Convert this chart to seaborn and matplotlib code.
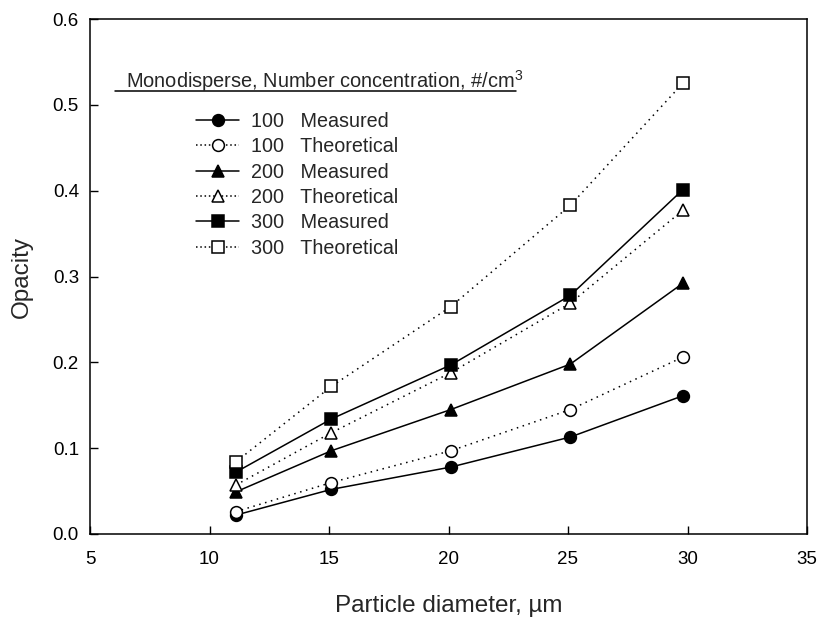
import matplotlib
matplotlib.use("Agg")
import matplotlib.pyplot as plt
from matplotlib.lines import Line2D
import seaborn as sns
import pandas as pd

# Particle diameters (µm) at which opacity was evaluated
diameter = [11.1, 15.1, 20.1, 25.1, 29.8]

# Opacity for each number concentration (#/cm^3)
measured_100 = [0.022, 0.052, 0.078, 0.113, 0.161]
theoretical_100 = [0.026, 0.060, 0.097, 0.145, 0.206]
measured_200 = [0.049, 0.097, 0.145, 0.198, 0.292]
theoretical_200 = [0.057, 0.118, 0.188, 0.269, 0.377]
measured_300 = [0.072, 0.134, 0.197, 0.278, 0.401]
theoretical_300 = [0.084, 0.172, 0.265, 0.383, 0.525]

series_labels = ["100   Measured", "100   Theoretical",
                 "200   Measured", "200   Theoretical",
                 "300   Measured", "300   Theoretical"]
series_values = [measured_100, theoretical_100, measured_200,
                 theoretical_200, measured_300, theoretical_300]

x_ticks = [5, 10, 15, 20, 25, 30, 35]
y_ticks = [0.0, 0.1, 0.2, 0.3, 0.4, 0.5, 0.6]

sns.set_style("ticks")
plt.rcParams["font.family"] = ["Liberation Sans", "DejaVu Sans"]
plt.rcParams["mathtext.fontset"] = "custom"
plt.rcParams["mathtext.rm"] = "Liberation Sans"
plt.rcParams["mathtext.it"] = "Liberation Sans:italic"

fig = plt.figure(figsize=(8.19, 6.19), dpi=100)
ax = fig.add_axes([90 / 819, 1 - 534 / 619, 717 / 819, 515 / 619])

dotted = (0, (1, 3))
styles = [
    dict(marker="o", ls="-", mfc="black", ms=8.5),
    dict(marker="o", ls=dotted, mfc="white", ms=8.5),
    dict(marker="^", ls="-", mfc="black", ms=9),
    dict(marker="^", ls=dotted, mfc="white", ms=9),
    dict(marker="s", ls="-", mfc="black", ms=8.5),
    dict(marker="s", ls=dotted, mfc="white", ms=8.5),
]

handles = []
for label, values, st in zip(series_labels, series_values, styles):
    df = pd.DataFrame({"d": diameter, "opacity": values})
    sns.lineplot(data=df, x="d", y="opacity", ax=ax, color="black",
                 linewidth=1.1, markeredgecolor="black", markeredgewidth=1.1,
                 marker=st["marker"], linestyle=st["ls"],
                 markerfacecolor=st["mfc"], markersize=st["ms"], legend=False)
    handle_ls = "-" if st["ls"] == "-" else (0, (1, 1.8))
    handles.append(Line2D([], [], color="black", linewidth=1.1,
                          marker=st["marker"], linestyle=handle_ls,
                          markerfacecolor=st["mfc"], markersize=st["ms"],
                          markeredgecolor="black", markeredgewidth=1.1))

ax.set_xlim(5, 35)
ax.set_ylim(0, 0.6)
ax.set_xticks(x_ticks)
ax.set_yticks(y_ticks)
ax.set_xticklabels([str(t) for t in x_ticks])
ax.set_yticklabels([f"{t:.1f}" for t in y_ticks])
ax.tick_params(direction="in", length=6, width=1, labelsize=13.5, colors="black",
               top=False, right=False)
ax.tick_params(axis="x", pad=12)
ax.tick_params(axis="y", pad=8)
for s in ax.spines.values():
    s.set_linewidth(1.1)
    s.set_color("black")

ax.set_xlabel("Particle diameter, µm", fontsize=17.5, labelpad=20)
ax.set_ylabel("Opacity", fontsize=17.5, labelpad=14)

# Legend heading, underlined
fig.text(125.5 / 819, 1 - 88 / 619,
         "Monodisperse, Number concentration, #/cm$^3$",
         fontsize=14.4, ha="left", va="baseline")
fig.add_artist(Line2D([115 / 819, 516 / 819], [1 - 90.7 / 619, 1 - 90.7 / 619],
                      color="black", linewidth=1.1, transform=fig.transFigure))

ax.legend(handles, series_labels, loc="upper left", frameon=False,
          bbox_to_anchor=(196 / 819, 1 - 112 / 619), bbox_transform=fig.transFigure,
          fontsize=14.2, handlelength=2.2, labelspacing=0.32, handletextpad=0.6,
          borderaxespad=0, borderpad=0)

fig.savefig("out.png", dpi=100)
